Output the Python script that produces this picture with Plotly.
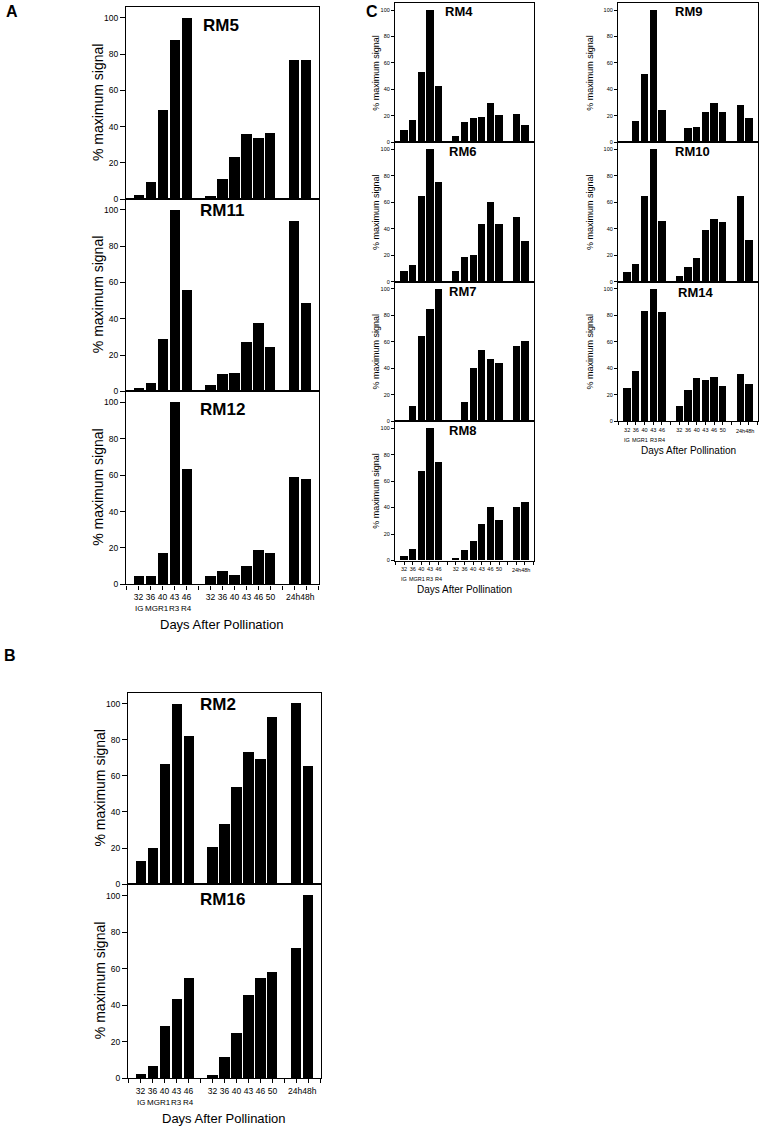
import plotly.graph_objects as go

W, H = 763, 1131

# x categories: three groups of samples with a gap between them
seed_days = ["32", "36", "40", "43", "46"]
pod_days = ["32", "36", "40", "43", "46", "50"]
poll_hours = ["24h", "48h"]
stage_labels = ["IG", "MGR1", "R3", "R4"]

# % maximum signal per gene (None = no bar)
rm5 = [2.4, 9.7, 49, 88, 100, 1.6, 11, 23, 36, 34, 36.3, 76.8, 76.8]
rm11 = [2, 4.7, 29, 100, 55.8, 3.5, 9.5, 10.2, 27.1, 37.5, 24.2, 94, 48.4]
rm12 = [4.5, 4.5, 17.2, 100, 63, 4.5, 7.2, 5.1, 10, 18.8, 17.2, 58.9, 57.6]
rm2 = [13.1, 20.3, 66.6, 100, 81.9, 20.6, 33.4, 53.6, 73.5, 69.5, 92.5, 100.5, 65.5]
rm16 = [2.4, 6.9, 28.7, 43.3, 55.1, 1.6, 11.5, 24.7, 45.5, 54.9, 58, 71.5, 100.5]
rm4 = [9, 16.8, 52.8, 100, 42.5, 4.5, 15.3, 18.8, 19.5, 30, 21, 21.3, 13.3]
rm6 = [7.8, 12.3, 64.5, 100, 75, 7.5, 18.3, 20.3, 43, 60, 43, 48.8, 30.5]
rm7 = [None, 11.8, 64.5, 85, 100, None, 15, 40, 53.8, 47, 43.8, 57.3, 61]
rm8 = [3, 8.5, 67.5, 100, 74.5, 1.8, 7.5, 14.3, 27.3, 40.5, 30.3, 40.5, 43.8]
rm9 = [None, 16, 51.5, 100, 24.3, None, 11, 11.8, 22.8, 29.5, 22.8, 28.5, 18.8]
rm10 = [6.8, 13, 64.5, 100, 45.3, 4.3, 10.8, 17.8, 38.8, 46.8, 44.8, 64.8, 31.3]
rm14 = [25.5, 37.8, 83.5, 100, 83, 11.5, 23.5, 32.8, 31.5, 33.8, 26.5, 35.8, 28]

# bar positions: groups separated by one empty slot
xpos = []
start = 0
for grp in [seed_days, pod_days, poll_hours]:
    xpos += [start + i for i in range(len(grp))]
    start += len(grp) + 1
day_pos = xpos[:len(seed_days) + len(pod_days)]
day_labels = seed_days + pod_days
hours_x = sum(xpos[-len(poll_hours):]) / len(poll_hours)
stage_x = [xpos[0], (xpos[1] + xpos[2]) / 2, xpos[3], xpos[4]]

FONT = "Arial, Liberation Sans, Helvetica, sans-serif"

def px(x):
    return x / W

def py(y):
    return 1 - y / H

# name, data, left, right, top, bottom, ymax, big, bottom-axis, title (x, y)
panels = [
    ("RM5", rm5, 126, 319, 7, 200, 106, True, False, (221, 26)),
    ("RM11", rm11, 126, 319, 200, 393, 106, True, False, (222, 211)),
    ("RM12", rm12, 126, 319, 393, 587, 106, True, True, (222, 411)),
    ("RM2", rm2, 128, 321, 696, 888, 106, True, False, (218, 708)),
    ("RM16", rm16, 128, 321, 888, 1083, 106.5, True, True, (222, 903)),
    ("RM4", rm4, 395, 534, 3, 143, 105.3, False, False, (459, 12)),
    ("RM6", rm6, 395, 534, 143, 283, 105.3, False, False, (462, 152)),
    ("RM7", rm7, 395, 534, 283, 423, 105.3, False, False, (462, 293)),
    ("RM8", rm8, 395, 534, 423, 563, 105.3, False, True, (462, 432)),
    ("RM9", rm9, 618, 758, 3, 143, 105.3, False, False, (688, 12)),
    ("RM10", rm10, 618, 758, 143, 283, 105.3, False, False, (692, 152)),
    ("RM14", rm14, 618, 758, 283, 423, 105.3, False, True, (695, 294)),
]

fig = go.Figure()
annotations = []
layout = {}

def note(x, y, text, size, xref="paper", angle=0):
    annotations.append(dict(x=x, y=y, xref=xref, yref="paper", text=text,
                            showarrow=False, xanchor="center", yanchor="middle",
                            textangle=angle,
                            font=dict(family=FONT, size=size, color="black")))

for k, (name, vals, x0, x1, y0, y1, ymax, big, bot, tpos) in enumerate(panels, start=1):
    xa = "x" if k == 1 else "x%d" % k
    ya = "y" if k == 1 else "y%d" % k
    fig.add_trace(go.Bar(x=xpos, y=vals, xaxis=xa, yaxis=ya, width=0.84,
                         marker=dict(color="black", line=dict(width=0)),
                         showlegend=False))
    tick_font = 8.5 if big else 5.5
    ticks_all = list(range(-1, 16))
    layout["xaxis" if k == 1 else "xaxis%d" % k] = dict(
        domain=[px(x0), px(x1)], anchor=ya, range=[-1.05, 15.05],
        showline=True, mirror=True, linecolor="black", linewidth=1.2,
        showgrid=False, zeroline=False, tickangle=0,
        tickmode="array", tickvals=ticks_all if bot else [],
        ticktext=[day_labels[day_pos.index(v)] if v in day_pos else "" for v in ticks_all] if bot else [],
        ticks="outside" if bot else "", ticklen=4 if big else 3, tickcolor="black",
        showticklabels=bot, tickfont=dict(family=FONT, size=tick_font, color="black"))
    layout["yaxis" if k == 1 else "yaxis%d" % k] = dict(
        domain=[py(y1), py(y0)], anchor=xa, range=[0, ymax],
        showline=True, mirror=True, linecolor="black", linewidth=1.2,
        showgrid=False, zeroline=False,
        tickmode="array", tickvals=[0, 20, 40, 60, 80, 100],
        ticks="outside", ticklen=5 if big else 3, tickcolor="black",
        tickfont=dict(family=FONT, size=tick_font, color="black"))

    note(px(tpos[0]), py(tpos[1]), "<b>%s</b>" % name, 17 if big else 13)
    ytx = (98 if x0 < 127 else 100) if big else (376 if x0 < 500 else 590)
    note(px(ytx), py((y0 + y1) / 2), "% maximum signal", 14 if big else 9, angle=-90)
    if bot:
        n_dy = 13 if big else 10
        s_dy = 24 if big else 19
        t_dy = 40 if big else 29
        note(hours_x, py(y1 + n_dy), "".join(poll_hours), tick_font, xref=xa)
        for lab, sx in zip(stage_labels, stage_x):
            note(sx, py(y1 + s_dy), lab, 8 if big else 5.5, xref=xa)
        note(px((x0 + x1) / 2), py(y1 + t_dy), "Days After Pollination", 13 if big else 10)

# panel letters
for letter, lx, ly in [("A", 12, 12), ("B", 10, 658), ("C", 372, 12)]:
    note(px(lx), py(ly), "<b>%s</b>" % letter, 16)

fig.update_layout(width=W, height=H, margin=dict(l=0, r=0, t=0, b=0),
                  paper_bgcolor="white", plot_bgcolor="white",
                  annotations=annotations, bargap=0, **layout)

fig.write_html("out.html", config={"displayModeBar": False},
               post_script="document.body.style.margin='0';document.body.style.overflow='hidden';")
